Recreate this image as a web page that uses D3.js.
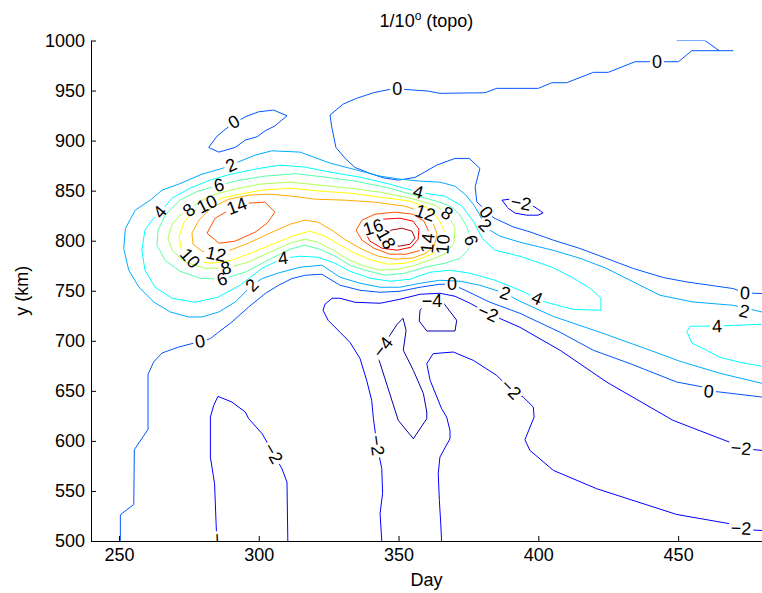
<!DOCTYPE html>
<html>
<head>
<meta charset="utf-8">
<script src="https://cdn.jsdelivr.net/npm/d3@7"></script>
<style>
  html, body { margin: 0; padding: 0; background: #fff; }
  svg text { font-family: "Liberation Sans", Arial, Helvetica, sans-serif; fill: #000; }
</style>
</head>
<body>
<svg id="chart" width="762" height="593"></svg>
<script>
// ---- contour levels and axis ticks ----
const levels = [-4, -2, 0, 2, 4, 6, 8, 10, 12, 14, 16, 18];
const xTicks = [250, 300, 350, 400, 450];
const yTicks = [500, 550, 600, 650, 700, 750, 800, 850, 900, 950, 1000];

// ---- contour lines, points as [day, y (km)] ----
const zeroTop = [[469.7,989.8],[454.9,989.8],[450.1,978.8],[442.6,978.8],[434.6,978.8],[425.0,968.2],[419.7,968.2],[410.1,957.8],[404.8,957.8],[400.0,952.2],[393.4,952.2],[385.1,952.2],[380.9,947.8],[364.8,947.2],[360.6,949.5],[351.7,951.2],[346.9,951.2],[341.0,947.8],[335.0,942.2],[330.2,936.5],[325.5,925.5],[326.1,913.8],[327.6,893.2],[330.9,882.2],[334.4,873.2],[339.8,867.2],[344.6,862.8],[349.9,860.5],[355.9,863.2],[359.5,868.8],[363.6,875.5],[370.2,882.2],[375.3,882.2],[379.1,872.2],[377.4,853.8],[378.0,838.8],[380.1,833.2],[381.5,827.8],[384.5,822.2],[391.0,813.8],[397.0,808.8],[405.4,800.5],[414.9,792.2],[424.5,782.2],[434.0,772.2],[444.7,763.2],[453.1,758.8],[469.7,752.2],[473.9,747.8],[480,747.2]];
const zeroEdge = [[449.5,1000],[459.6,1000],[464.7,989.8]];
const zeroLoop = [[310.1,924.8],[305.3,930.5],[300.0,928.8],[295.2,923.8],[289.2,913.8],[285.1,904.5],[282.1,893.2],[285.7,888.5],[291.6,893.2],[295.2,900.5],[299.4,903.8],[302.3,909.8],[305.7,914.5]];
const zeroLow = [[250.5,500],[250.5,526.2],[255.3,536.5],[255.5,591.2],[260.4,611.5],[260.4,666.5],[262.4,678.8],[265.4,687.8],[271.4,693.8],[276.1,697.2],[279.1,698.8],[282.7,702.2],[285.7,708.8],[290.4,718.8],[296.4,733.8],[302.3,747.2],[307.1,755.5],[311.9,762.2],[316.7,765.5],[322.6,766.5],[329.1,755.5],[336.2,750.5],[343.4,748.5],[350.5,749.5],[357.7,753.5],[364.8,756.5],[369.1,756.5],[373.8,750.5],[382.7,738.5],[393.4,727.5],[407.8,708.5],[419.7,690.5],[432.8,677.2],[449.5,658.8],[459.0,653.8],[461.0,649.8],[465.0,648.8],[480,643.8]];
const two = [[480,728.8],[469.6,735.5],[455.3,738.8],[443.5,745.5],[432.8,760.5],[424.2,772.5],[414.9,782.5],[405.2,790.5],[393.4,798.5],[386.3,804.5],[382.7,810.5],[380.9,815.5],[379.1,825.5],[377.0,835.5],[374.1,845.5],[370.2,854.5],[364.8,858.5],[357.7,859.5],[350.5,861.5],[343.4,864.5],[335.1,870.5],[325.5,877.5],[314.8,888.5],[304.7,889.8],[298.7,885.5],[292.8,878.8],[290.1,875.5],[286.9,872.2],[279.7,866.5],[271.4,856.5],[265.4,850.5],[261.2,840.5],[255.8,830.5],[252.3,812.2],[251.7,792.2],[253.5,770.5],[257.1,753.8],[262.4,738.8],[268.4,728.8],[274.9,723.8],[279.7,723.8],[285.7,728.8],[291.6,738.8],[295.2,748.8],[297.6,755.5],[301.2,762.2],[307.1,767.8],[314.8,773.5],[322.6,775.5],[329.1,763.5],[336.2,757.5],[343.4,753.5],[350.5,753.5],[357.7,757.5],[364.8,760.5],[372.0,759.5],[379.1,755.5],[388.1,747.5],[393.4,739.5],[405.2,724.5],[423.1,707.5],[440.0,690.5],[450.7,679.5],[465.0,667.5],[480,657.5]];
const four = [[264.7,828.5],[269.0,842.5],[275.4,852.5],[282.6,860.5],[290.1,866.5],[298.7,871.5],[307.6,875.5],[316.5,873.5],[325.5,868.5],[336.2,863.5],[346.9,856.5],[357.0,848.5],[366.6,844.5],[372.7,834.5],[377.0,818.5],[379.9,802.5],[384.5,790.5],[393.4,784.5],[404.9,773.5],[412.0,763.5],[418.5,752.5],[422.4,742.5],[422.4,730.5],[412.4,731.5],[402.7,738.5],[399.5,742.5],[393.4,750.5],[384.5,760.5],[375.6,767.5],[368.4,770.5],[361.3,768.5],[354.1,761.5],[346.9,759.5],[339.8,762.5],[332.6,769.5],[327.3,777.5],[321.2,783.5],[314.8,784.5],[308.7,782.5],[301.2,772.5],[293.3,755.5],[285.4,743.5],[277.2,738.5],[269.0,742.5],[262.9,753.5],[259.3,770.5],[258.2,790.5],[259.3,810.5],[261.8,820.5]];
const fourEast = [[480,716.5],[463.8,714.8],[454.3,714.5],[453.1,709.5],[454.9,697.8],[460.2,690.5],[465.0,683.5],[472.1,678.5],[480,674.5]];
const six = [[285.8,855.5],[293.3,860.5],[302.2,864.5],[313.0,867.0],[323.7,863.5],[334.4,859.5],[345.2,853.5],[357.0,844.5],[364.8,838.5],[369.1,833.5],[372.0,825.5],[374.5,813.5],[375.9,800.5],[374.8,790.5],[372.0,782.5],[366.6,777.5],[359.5,773.5],[352.3,767.5],[345.2,765.5],[338.0,770.5],[332.6,775.5],[327.3,784.5],[321.9,791.5],[316.5,795.5],[311.2,791.5],[304.0,781.5],[295.1,768.5],[286.9,761.5],[279.0,762.5],[271.8,769.5],[266.5,780.5],[263.6,795.5],[264.0,810.5],[266.5,825.5],[271.8,840.5],[278.3,849.5]];
const eight = [[275.1,830.5],[279.0,839.5],[284.4,846.5],[291.5,851.5],[300.4,856.5],[311.2,858.5],[321.9,855.5],[332.6,852.5],[343.4,848.5],[354.1,842.5],[363.0,835.5],[367.3,827.5],[370.2,812.5],[369.8,797.5],[367.0,787.5],[362.0,781.5],[355.9,775.5],[349.8,771.5],[343.4,770.5],[336.9,775.5],[331.9,781.5],[326.6,790.5],[321.2,798.5],[316.5,801.5],[311.2,797.5],[304.0,788.5],[296.2,778.5],[288.3,772.5],[280.8,772.5],[273.6,778.5],[269.0,790.5],[267.5,802.5],[269.0,816.5],[271.8,825.5]];
const ten = [[275.4,782.5],[272.2,792.5],[271.5,804.5],[273.3,818.5],[277.2,830.5],[281.5,836.5],[286.9,842.5],[293.3,846.5],[301.2,850.5],[311.2,852.5],[321.9,849.5],[332.6,847.5],[343.4,843.5],[354.1,839.5],[360.5,832.5],[364.1,822.5],[366.3,810.5],[365.9,796.5],[363.4,788.5],[358.4,782.5],[352.3,777.5],[346.2,776.5],[340.5,780.5],[334.4,787.5],[329.1,795.5],[323.7,804.5],[318.3,809.5],[313.0,805.5],[305.8,797.5],[297.9,788.5],[290.4,780.5],[283.3,777.5],[277.2,779.5]];
const twelve = [[284.7,786.5],[279.7,789.5],[276.5,796.5],[276.1,807.5],[278.6,820.5],[283.3,833.5],[289.4,841.5],[296.5,845.5],[304.0,846.5],[311.9,844.5],[320.1,841.5],[330.9,840.5],[341.6,838.5],[352.3,834.5],[359.5,827.5],[362.3,818.5],[363.8,806.5],[362.7,794.5],[359.8,787.5],[354.8,782.5],[348.7,781.5],[342.7,784.5],[336.9,791.5],[331.2,800.5],[326.2,810.5],[321.2,818.5],[316.5,820.5],[311.2,816.5],[304.0,807.5],[296.2,797.5],[289.7,790.5]];
const fourteenWest = [[281.5,807.5],[284.4,822.5],[289.4,830.5],[296.2,837.5],[302.2,838.5],[305.8,828.5],[303.0,817.5],[298.7,808.5],[291.5,799.5],[285.8,797.5]];
const fourteenEast = [[334.8,810.5],[336.9,820.5],[341.6,826.5],[348.7,828.5],[355.2,826.5],[359.1,819.5],[360.9,808.5],[360.5,797.5],[358.0,790.5],[352.7,786.5],[346.9,786.5],[341.2,792.5],[336.9,800.5]];
const sixteen = [[337.6,810.5],[339.8,817.5],[344.4,821.5],[350.5,822.5],[355.2,819.5],[357.3,811.5],[357.0,801.5],[354.5,793.5],[349.5,790.5],[344.1,792.5],[339.8,799.5]];
const eighteen = [[345.2,804.5],[347.3,810.5],[351.2,812.5],[354.8,809.5],[355.9,802.5],[354.1,796.5],[350.2,794.5],[346.6,797.5]];
const minusTwoNorth = [[480,590.5],[472.5,592.5],[468.6,598.5],[448.2,620.5],[424.6,658.5],[407.8,690.5],[393.4,713.5],[382.0,727.5],[375.6,737.5],[370.2,744.5],[364.8,747.5],[357.7,746.5],[350.5,741.5],[343.4,737.5],[334.4,738.5],[329.1,742.5],[326.2,742.5],[323.7,736.5],[323.0,730.5],[324.8,720.5],[329.1,708.5],[332.6,698.5],[334.4,690.5],[336.2,682.5],[338.6,660.5],[340.4,640.5],[341.0,622.5],[342.3,595.5],[344.0,572.5],[344.3,547.5],[343.4,527.5],[344.0,500]];
const minusTwoSouth = [[365.4,500],[365.1,517.2],[364.6,540.5],[364.2,567.2],[364.8,583.8],[368.4,602.2],[368.4,610.5],[367.2,623.8],[365.4,632.2],[361.3,660.5],[360.1,677.2],[362.4,687.2],[369.6,688.8],[376.7,680.5],[385.1,665.5],[390.2,651.2],[394.6,643.8],[398.2,633.8],[398.5,623.8],[395.2,601.2],[397.0,590.5],[405.4,570.5],[420.9,552.2],[449.5,526.5],[468.6,517.2],[472.4,511.5],[480,510.5]];
const minusTwoWest = [[285.0,500],[284.7,520.5],[284.2,557.2],[282.7,583.8],[282.7,623.8],[283.9,635.5],[285.4,644.5],[290.4,638.8],[295.2,628.8],[296.4,622.2],[301.2,607.2],[305.3,587.2],[308.3,572.2],[310.1,558.8],[310.4,500]];
const minusTwoLoop = [[387.0,840.5],[389.2,832.5],[391.7,827.5],[395.9,825.5],[399.9,825.5],[401.7,827.8],[398.8,833.5],[395.2,838.5],[389.9,841.5]];
const minusFourMain = [[343.4,677.5],[342.2,687.8],[344.4,695.5],[346.9,705.5],[349.5,716.5],[351.6,722.5],[352.7,710.5],[351.7,690.5],[355.3,670.5],[358.9,647.2],[360.1,628.8],[360.1,622.2],[355.3,602.2],[349.9,620.5]];
const minusFourSmall = [[357.7,730.5],[360.1,738.5],[365.9,738.5],[370.8,720.5],[370.2,709.8],[360.1,709.8],[357.4,719.8]];

// ---- inline contour labels: [level, day, y (km)] ----
const contourLabels = [
  [0,291.1,918.5],[0,349.5,951.5],[0,442.4,978.5],[2,290.1,875.5],[6,285.8,855.5],
  [4,264.7,828.5],[8,275.1,830.5],[10,281.5,836.5],[14,292.2,834.5],[4,357.0,848.5],
  [12,359.5,827.5],[8,367.3,827.5],[16,340.9,813.5],[18,345.5,801.5],[14,360.5,797.5],
  [10,365.9,796.5],[6,375.9,800.5],[0,381.3,828.5],[2,380.9,815.5],[-2,393.8,837.5],
  [10,275.4,782.5],[12,284.7,786.5],[8,288.3,772.5],[6,286.9,761.5],[4,308.7,782.5],
  [2,297.6,755.5],[0,279.0,699.5],[0,369.1,756.5],[2,388.1,747.5],[4,399.5,742.5],
  [-2,382.0,727.5],[-4,362.0,739.5],[-4,344.4,693.5],[-2,390.2,651.5],[-2,342.3,595.5],
  [-2,305.1,587.5],[0,461.0,649.5],[-2,472.5,592.5],[-2,472.5,512.5],[0,473.9,747.5],
  [2,473.6,729.5],[4,463.9,714.5],[-2,285.2,497.5]
];

const contours = [
  { level: 0, pts: zeroTop }, { level: 0, pts: zeroEdge }, { level: 0, pts: zeroLoop, closed: true },
  { level: 0, pts: zeroLow }, { level: 2, pts: two },
  { level: 4, pts: four, closed: true }, { level: 4, pts: fourEast },
  { level: 6, pts: six, closed: true }, { level: 8, pts: eight, closed: true },
  { level: 10, pts: ten, closed: true }, { level: 12, pts: twelve, closed: true },
  { level: 14, pts: fourteenWest, closed: true }, { level: 14, pts: fourteenEast, closed: true },
  { level: 16, pts: sixteen, closed: true }, { level: 18, pts: eighteen, closed: true },
  { level: -2, pts: minusTwoNorth }, { level: -2, pts: minusTwoSouth }, { level: -2, pts: minusTwoWest },
  { level: -2, pts: minusTwoLoop, closed: true },
  { level: -4, pts: minusFourMain, closed: true }, { level: -4, pts: minusFourSmall, closed: true }
];

// ---- layout ----
const W = 762, H = 593;
const plot = { left: 91, right: 762, top: 40.5, bottom: 541 };
const x = d3.scaleLinear().domain([240, 480]).range([plot.left, plot.right]);
const y = d3.scaleLinear().domain([500, 1000]).range([plot.bottom, plot.top]);

// MATLAB-style jet colormap, one colour per level
function jet(t) {
  const c = v => Math.max(0, Math.min(1, v));
  return d3.rgb(255 * c(1.5 - Math.abs(4 * t - 3)), 255 * c(1.5 - Math.abs(4 * t - 2)), 255 * c(1.5 - Math.abs(4 * t - 1)));
}
const levelColor = lv => jet((levels.indexOf(lv) + 0.5) / levels.length).toString();

const svg = d3.select('#chart');
const defs = svg.append('defs');
defs.append('clipPath').attr('id', 'plot-clip')
  .append('rect').attr('x', plot.left).attr('y', plot.top)
  .attr('width', plot.right - plot.left).attr('height', plot.bottom - plot.top);

const fmt = v => (v < 0 ? '\u2212' + Math.abs(v) : String(v));
const labelFont = 18;

// direction of the contour line nearest to a label, in screen degrees
function lineAngle(level, px, py) {
  let best = Infinity, ang = 0;
  contours.filter(c => c.level === level).forEach(c => {
    const p = c.pts.map(d => [x(d[0]), y(d[1])]);
    if (c.closed) p.push(p[0]);
    for (let i = 0; i < p.length - 1; i++) {
      const [x1, y1] = p[i], [x2, y2] = p[i + 1];
      const dx = x2 - x1, dy = y2 - y1, L = dx * dx + dy * dy || 1;
      let t = ((px - x1) * dx + (py - y1) * dy) / L;
      t = Math.max(0, Math.min(1, t));
      const qx = x1 + t * dx - px, qy = y1 + t * dy - py, d = qx * qx + qy * qy;
      if (d < best) { best = d; ang = Math.atan2(dy, dx) * 180 / Math.PI; }
    }
  });
  if (ang > 90) ang -= 180;
  if (ang < -90) ang += 180;
  return ang;
}

// labels first (measured), so each level's line can be broken around its own labels
const labelLayer = svg.append('g').attr('class', 'contour-labels').attr('clip-path', 'url(#plot-clip)');
const labelInfo = contourLabels.map(([lv, day, km]) => {
  const px = x(day), py = y(km);
  const ang = lineAngle(lv, px, py);
  const t = labelLayer.append('text')
    .attr('x', 0).attr('y', 0)
    .attr('text-anchor', 'middle').attr('dominant-baseline', 'central')
    .attr('font-size', labelFont)
    .attr('transform', `translate(${px},${py}) rotate(${ang})`)
    .text(fmt(lv));
  return { lv, px, py, ang, w: t.node().getComputedTextLength() };
});

levels.forEach((lv, i) => {
  const m = defs.append('mask').attr('id', 'gap-' + i)
    .attr('maskUnits', 'userSpaceOnUse').attr('x', 0).attr('y', 0).attr('width', W).attr('height', H);
  m.append('rect').attr('width', W).attr('height', H).attr('fill', '#fff');
  labelInfo.filter(l => l.lv === lv).forEach(l => {
    const bw = l.w + 4, bh = labelFont * 0.8;
    m.append('rect').attr('x', -bw / 2).attr('y', -bh / 2).attr('width', bw).attr('height', bh)
      .attr('fill', '#000').attr('transform', `translate(${l.px},${l.py}) rotate(${l.ang})`);
  });
});

const line = d3.line().x(d => x(d[0])).y(d => y(d[1]));
const lineLayer = svg.insert('g', '.contour-labels').attr('clip-path', 'url(#plot-clip)');
levels.forEach((lv, i) => {
  const g = lineLayer.append('g').attr('mask', `url(#gap-${i})`);
  contours.filter(c => c.level === lv).forEach(c => {
    const pts = c.closed ? c.pts.concat([c.pts[0]]) : c.pts;
    g.append('path').attr('d', line(pts))
      .attr('fill', 'none').attr('stroke', levelColor(lv))
      .attr('stroke-width', 1).attr('stroke-linejoin', 'round');
  });
});

// ---- axes (left and bottom only, ticks pointing inward) ----
const xAxis = d3.axisBottom(x).tickValues(xTicks).tickFormat(d3.format('d'))
  .tickSizeInner(-5).tickSizeOuter(0).tickPadding(7);
const yAxis = d3.axisLeft(y).tickValues(yTicks).tickFormat(d3.format('d'))
  .tickSizeInner(-5).tickSizeOuter(0).tickPadding(6);
const gx = svg.append('g').attr('transform', `translate(0,${plot.bottom})`).call(xAxis);
const gy = svg.append('g').attr('transform', `translate(${plot.left},0)`).call(yAxis);
[gx, gy].forEach(g => {
  g.selectAll('text').attr('font-size', 18).attr('font-family', '"Liberation Sans", Arial, sans-serif').attr('fill', '#000');
  g.selectAll('line,path').attr('stroke', '#000');
});

// ---- title and axis titles ----
const title = svg.append('text').attr('x', (plot.left + plot.right) / 2).attr('y', 27)
  .attr('text-anchor', 'middle').attr('font-size', 18);
title.append('tspan').text('1/10');
title.append('tspan').attr('font-size', 12).attr('dy', -7).text('o');
title.append('tspan').attr('dy', 7).text(' (topo)');

svg.append('text').attr('x', (plot.left + plot.right) / 2).attr('y', 586)
  .attr('text-anchor', 'middle').attr('font-size', 18).text('Day');
svg.append('text').attr('transform', `translate(28,${(plot.top + plot.bottom) / 2}) rotate(-90)`)
  .attr('text-anchor', 'middle').attr('font-size', 18).text('y (km)');
</script>
</body>
</html>
